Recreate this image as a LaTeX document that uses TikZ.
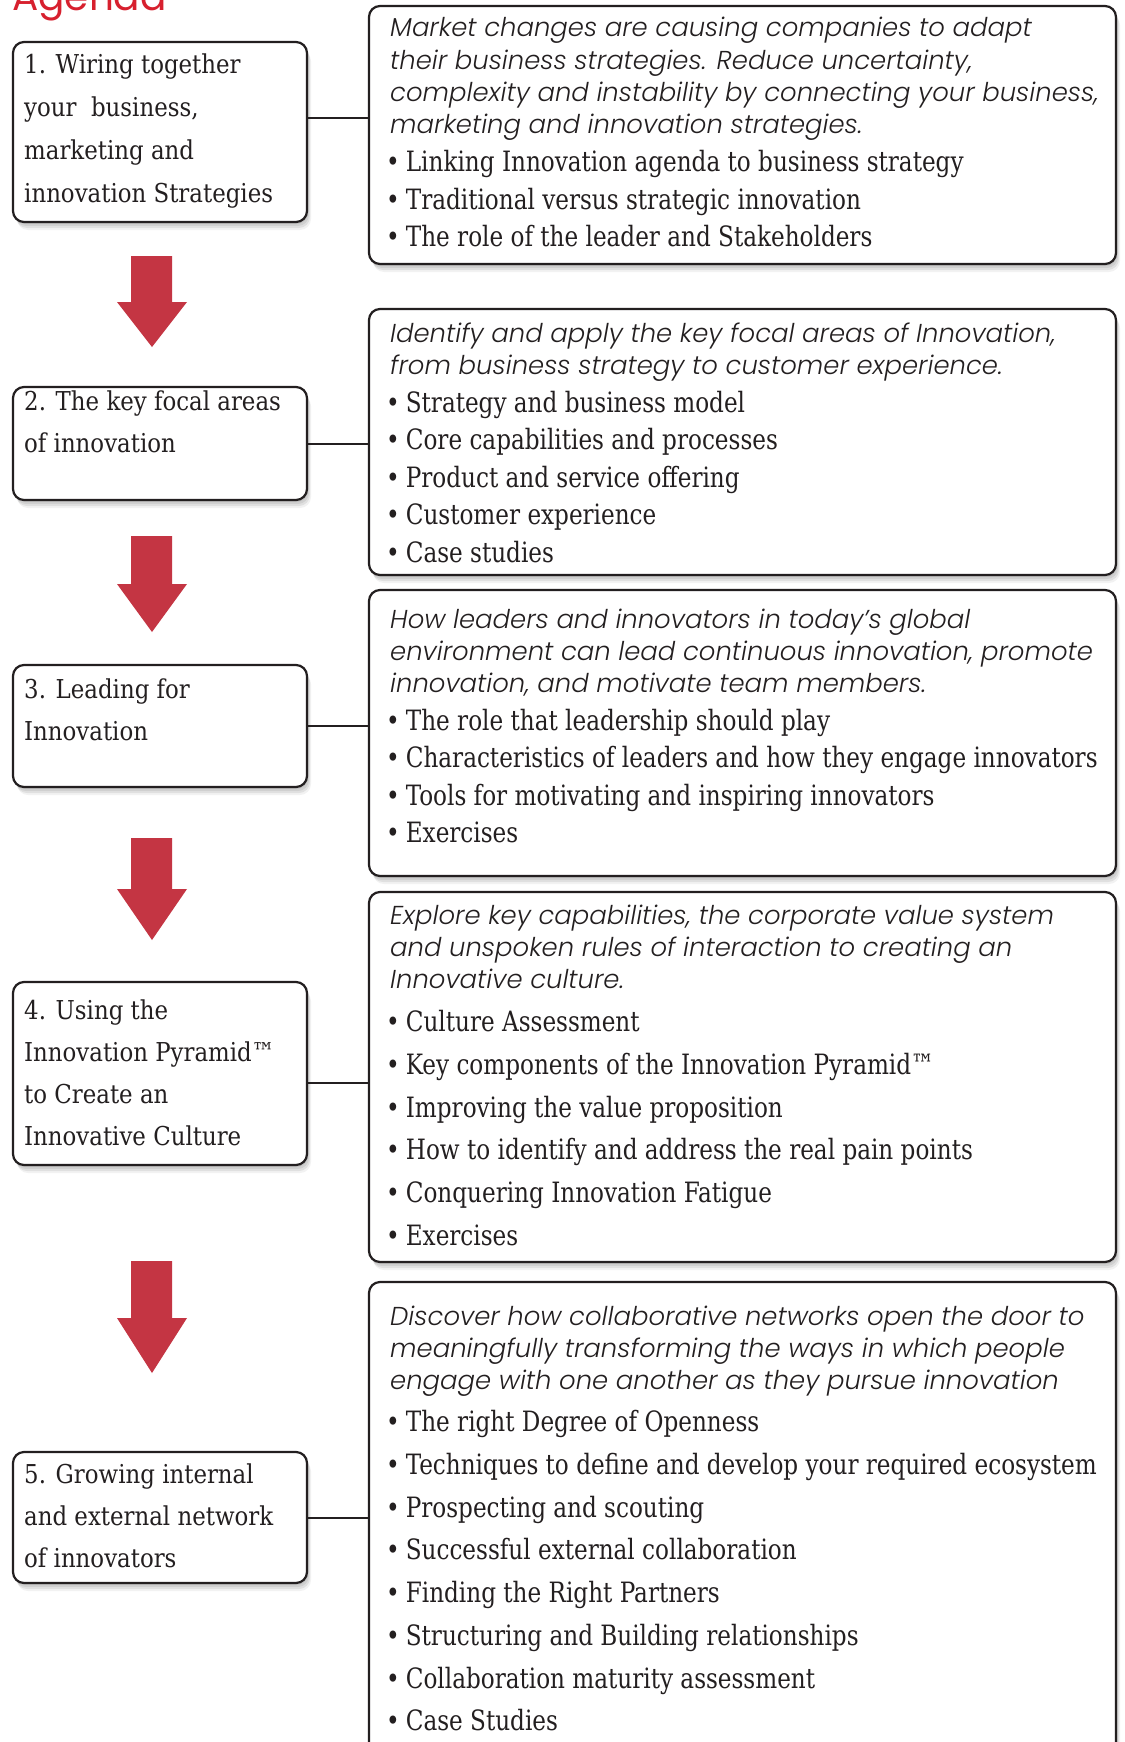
\documentclass[tikz,border=0pt]{standalone}
\usepackage{fontspec}
\usetikzlibrary{shadows}
\setmainfont{DejaVu Serif}
\newfontfamily\leftfont{DejaVu Serif}[FakeStretch=0.88]
\newfontfamily\bulfont{DejaVu Serif Condensed}[FakeStretch=0.918]
\newfontfamily\gothic{Poppins}[UprightFont=* Light, ItalicFont=* Light Italic]
\newfontfamily\titlefont{Poppins}
\definecolor{ink}{HTML}{231F20}
\definecolor{arrowred}{HTML}{C43543}
\definecolor{titlered}{HTML}{D7202E}
\newcommand\Blk[2]{\vtop{\baselineskip=#1\lineskiplimit=-200pt\lineskip=0pt\relax #2}}
\newcommand\Ln[1]{\hbox{#1}}
\newcommand\Bl[1]{\hbox{•\hskip 6pt #1}}
\newcommand\redarrow[3]{\fill[arrowred] (131,#1) -- (172,#1) -- (172,#2) -- (187,#2) -- (152,#3) -- (117,#2) -- (131,#2) -- cycle;}
\tikzset{
  card/.style={draw=ink, line width=2.2pt, rounded corners=11pt, fill=white, inner sep=0pt,
    general shadow={fill=black, opacity=0.07, shadow xshift=1pt, shadow yshift=-2pt},
    general shadow={fill=black, opacity=0.07, shadow xshift=2pt, shadow yshift=-4pt},
    general shadow={fill=black, opacity=0.07, shadow xshift=3pt, shadow yshift=-6pt},
    general shadow={fill=black, opacity=0.05, shadow xshift=4pt, shadow yshift=-8pt}},
  lcard/.style={card, minimum width=294pt},
  rcard/.style={card, minimum width=747pt},
  conn/.style={draw=ink, line width=2pt},
  ltxt/.style={anchor=base west, inner sep=0pt, text=ink, font=\leftfont\fontsize{26}{26}\selectfont},
  itxt/.style={anchor=base west, inner sep=0pt, text=ink, font=\gothic\itshape\fontsize{25.9}{26}\selectfont},
  btxt/.style={anchor=base west, inner sep=0pt, text=ink, font=\bulfont\fontsize{28}{28}\selectfont},
}
\begin{document}
\begin{tikzpicture}[x=1pt,y=-1pt]
\useasboundingbox (0,0) rectangle (1124,1742);
\fill[white] (0,0) rectangle (1124,1742);
\node[anchor=base west, inner sep=0pt, text=titlered, font=\titlefont\fontsize{39}{39}\selectfont] (title) at (12,11) {Agenda};
% left cards
\node[lcard, minimum height=180pt] (L1) at (160,132) {};
\node[lcard, minimum height=113pt] (L2) at (160,443.5) {};
\node[lcard, minimum height=122pt] (L3) at (160,726) {};
\node[lcard, minimum height=183pt] (L4) at (160,1073.5) {};
\node[lcard, minimum height=131pt] (L5) at (160,1517.5) {};
% right cards
\node[rcard, minimum height=258pt] (R1) at (742.5,135) {};
\node[rcard, minimum height=266pt] (R2) at (742.5,442) {};
\node[rcard, minimum height=286pt] (R3) at (742.5,733) {};
\node[rcard, minimum height=370pt] (R4) at (742.5,1077) {};
\node[rcard, minimum height=488pt] (R5) at (742.5,1526) {};
% connectors
\draw[conn] ([yshift=14pt]L1.east) -- ([yshift=14pt]L1.east -| R1.west);
\draw[conn] (L2.east) -- (L2.east -| R2.west);
\draw[conn] (L3.east) -- (L3.east -| R3.west);
\draw[conn] ([yshift=-9.5pt]L4.east) -- ([yshift=-9.5pt]L4.east -| R4.west);
\draw[conn] (L5.east) -- (L5.east -| R5.west);
% arrows
\redarrow{256}{302}{347}
\redarrow{536}{584}{632}
\redarrow{838}{889}{940}
\redarrow{1261}{1318}{1373}
% left texts
\node[ltxt] (L1t) at (24,74) {\Blk{42.7pt}{\Ln{1. Wiring together}\Ln{your\ \ business,}\Ln{marketing and}\Ln{innovation Strategies}}};
\node[ltxt] (L2t) at (24,410) {\Blk{42.3pt}{\Ln{2. The key focal areas}\Ln{of innovation}}};
\node[ltxt] (L3t) at (24,698) {\Blk{42.3pt}{\Ln{3. Leading for}\Ln{Innovation}}};
\node[ltxt] (L4t) at (24,1019) {\Blk{42.3pt}{\Ln{4. Using the}\Ln{Innovation Pyramid™}\Ln{to Create an}\Ln{Innovative Culture}}};
\node[ltxt] (L5t) at (24,1483) {\Blk{42.3pt}{\Ln{5. Growing internal}\Ln{and external network}\Ln{of innovators}}};
% right texts
\node[itxt] (R1i) at (390,37) {\Blk{32.2pt}{\Ln{Market changes are causing companies to adapt}\Ln{their business strategies. Reduce uncertainty,}\Ln{complexity and instability by connecting your business,}\Ln{marketing and innovation strategies.}}};
\node[btxt] (R1b) at (386,171.5) {\Blk{37.6pt}{\Bl{Linking Innovation agenda to business strategy}\Bl{Traditional versus strategic innovation}\Bl{The role of the leader and Stakeholders}}};
\node[itxt] (R2i) at (390,342) {\Blk{32.2pt}{\Ln{Identify and apply the key focal areas of Innovation,}\Ln{from business strategy to customer experience.}}};
\node[btxt] (R2b) at (386,412) {\Blk{37.6pt}{\Bl{Strategy and business model}\Bl{Core capabilities and processes}\Bl{Product and service offering}\Bl{Customer experience}\Bl{Case studies}}};
\node[itxt] (R3i) at (390,628) {\Blk{32.2pt}{\Ln{How leaders and innovators in today’s global}\Ln{environment can lead continuous innovation, promote}\Ln{innovation, and motivate team members.}}};
\node[btxt] (R3b) at (386,730) {\Blk{37.6pt}{\Bl{The role that leadership should play}\Bl{Characteristics of leaders and how they engage innovators}\Bl{Tools for motivating and inspiring innovators}\Bl{Exercises}}};
\node[itxt] (R4i) at (390,924) {\Blk{32.2pt}{\Ln{Explore key capabilities, the corporate value system}\Ln{and unspoken rules of interaction to creating an}\Ln{Innovative culture.}}};
\node[btxt] (R4b) at (386,1031.5) {\Blk{42.75pt}{\Bl{Culture Assessment}\Bl{Key components of the Innovation Pyramid™}\Bl{Improving the value proposition}\Bl{How to identify and address the real pain points}\Bl{Conquering Innovation Fatigue}\Bl{Exercises}}};
\node[itxt] (R5i) at (390,1325) {\Blk{32.2pt}{\Ln{Discover how collaborative networks open the door to}\Ln{meaningfully transforming the ways in which people}\Ln{engage with one another as they pursue innovation}}};
\node[btxt] (R5b) at (386,1431.5) {\Blk{42.75pt}{\Bl{The right Degree of Openness}\Bl{Techniques to define and develop your required ecosystem}\Bl{Prospecting and scouting}\Bl{Successful external collaboration}\Bl{Finding the Right Partners}\Bl{Structuring and Building relationships}\Bl{Collaboration maturity assessment}\Bl{Case Studies}}};
\end{tikzpicture}
\end{document}
